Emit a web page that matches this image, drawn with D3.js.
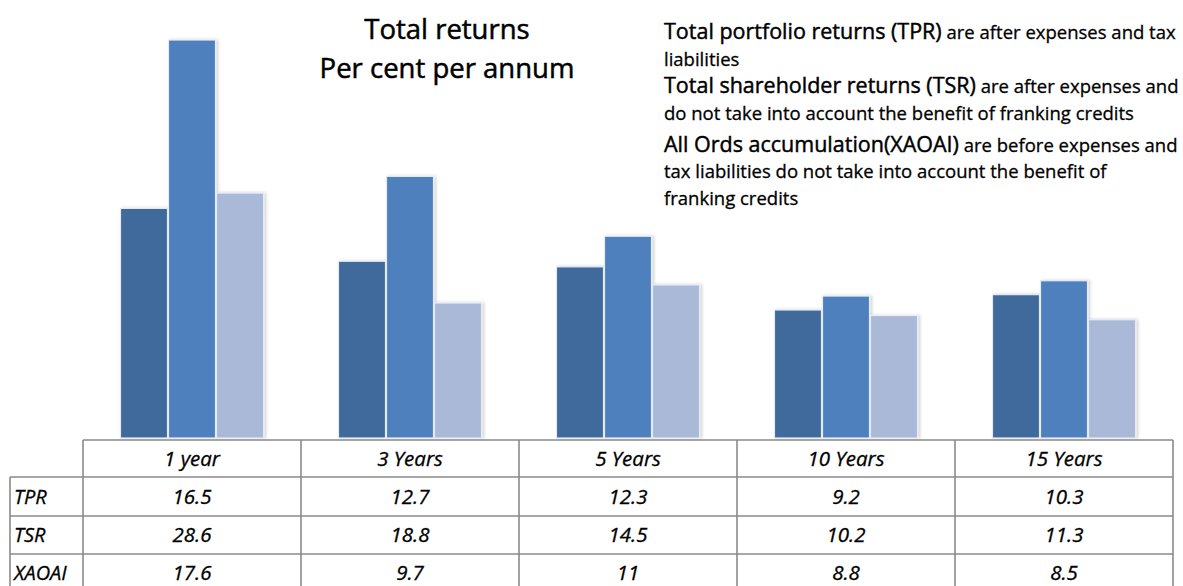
<!DOCTYPE html>
<html><head><meta charset="utf-8">
<script src="https://cdn.jsdelivr.net/npm/d3@7"></script>
<style>body{margin:0;background:#fff;} svg{display:block;}</style>
</head><body>
<svg id="chart" width="1183" height="586"></svg>
<script>
const categories = ["1 year", "3 Years", "5 Years", "10 Years", "15 Years"];
const seriesNames = ["TPR", "TSR", "XAOAI"];
const tpr = [16.5, 12.7, 12.3, 9.2, 10.3];
const tsr = [28.6, 18.8, 14.5, 10.2, 11.3];
const xaoai = [17.6, 9.7, 11, 8.8, 8.5];
const seriesValues = [tpr, tsr, xaoai];
const seriesLabels = [
  ["16.5","12.7","12.3","9.2","10.3"],
  ["28.6","18.8","14.5","10.2","11.3"],
  ["17.6","9.7","11","8.8","8.5"]
];
const colors = ["#3f6a9c", "#4e80bd", "#a9b9d7"];
const titleLines = ["Total returns", "Per cent per annum"];
const notes = [
  [["Total portfolio returns (TPR)", true], [" are after expenses and tax", false]],
  [["liabilities", false]],
  [["Total shareholder returns (TSR)", true], [" are after expenses and", false]],
  [["do not take into account the benefit of franking credits", false]],
  [["All Ords accumulation(XAOAI)", true], [" are before expenses and", false]],
  [["tax liabilities do not take into account the benefit of", false]],
  [["franking credits", false]]
];

const svg = d3.select("#chart");
const font = "'Open Sans', 'Noto Sans', sans-serif";

const defs = svg.append("defs");
const f = defs.append("filter").attr("id","sh").attr("x","-10%").attr("y","-10%").attr("width","130%").attr("height","130%");
f.append("feDropShadow").attr("dx",2).attr("dy",0).attr("stdDeviation",1.5).attr("flood-color","#000").attr("flood-opacity",0.18);

const tableLeft = 83, tableRight = 1173, baseY = 438;
const x = d3.scaleBand().domain(categories).range([tableLeft, tableRight]).padding(0);
const xi = d3.scaleBand().domain(seriesNames).range([0, x.bandwidth()]).paddingInner(0).paddingOuter(0.77);
const y = d3.scaleLinear().domain([0, 28.6]).range([baseY, 40]);

const groups = svg.append("g").selectAll("g").data(categories).join("g")
  .attr("transform", d => `translate(${x(d)},0)`);
groups.selectAll("rect").data((c, ci) => seriesNames.map((s, si) => ({s, v: seriesValues[si][ci], si})))
  .join("rect")
  .attr("x", d => xi(d.s) + 0.5)
  .attr("width", xi.bandwidth() - 1)
  .attr("y", d => y(d.v))
  .attr("height", d => baseY - y(d.v))
  .attr("fill", d => colors[d.si])
  .attr("stroke", "#e4ebf4")
  .attr("stroke-width", 1.2)
  .attr("filter", "url(#sh)");

// Title
svg.append("g").selectAll("text").data(titleLines).join("text")
  .attr("x", 447).attr("y", (d,i) => 39 + i*39)
  .attr("text-anchor","middle")
  .attr("font-family", font).attr("font-size", 27.5).attr("fill","#000")
  .attr("stroke","#000").attr("stroke-width",0.5)
  .text(d => d);

// Notes
const nt = svg.append("g").selectAll("text").data(notes).join("text")
  .attr("x", 664).attr("y", (d,i) => [39,66,93,120,152,178,205][i])
  .attr("font-family", font).attr("fill","#000");
nt.selectAll("tspan").data(d => d).join("tspan")
  .attr("font-size", d => d[1] ? 21.5 : 18.5)
  .attr("stroke", "#000")
  .attr("stroke-width", d => d[1] ? 0.45 : 0.3)
  .text(d => d[0]);

// Table
const rowY = [440, 477, 516, 554, 592];
const lineColor = "#8a8a8a";
const tg = svg.append("g");
tg.append("line").attr("x1", tableLeft).attr("x2", tableRight).attr("y1", rowY[0]).attr("y2", rowY[0])
  .attr("stroke", lineColor).attr("stroke-width", 1.6);
for (let r = 1; r < rowY.length; r++) {
  tg.append("line").attr("x1", 10).attr("x2", tableRight).attr("y1", rowY[r]).attr("y2", rowY[r])
    .attr("stroke", lineColor).attr("stroke-width", 1.6);
}
tg.append("line").attr("x1", 10).attr("x2", 10).attr("y1", rowY[1]).attr("y2", 592).attr("stroke", lineColor).attr("stroke-width", 1.6);
const vx = categories.map(c => x(c)).concat([tableRight]);
tg.selectAll("line.v").data(vx).join("line").attr("class","v")
  .attr("x1", d => d).attr("x2", d => d).attr("y1", rowY[0]).attr("y2", 592)
  .attr("stroke", lineColor).attr("stroke-width", 1.6);

tg.selectAll("text.h").data(categories).join("text").attr("class","h")
  .attr("x", d => x(d) + x.bandwidth()/2).attr("y", 466)
  .attr("text-anchor","middle").attr("font-family", font).attr("font-style","italic")
  .attr("font-size", 20.5).attr("fill","#000").attr("stroke","#000").attr("stroke-width",0.3).text(d => d);

seriesNames.forEach((s, si) => {
  const cy = (rowY[si+1] + rowY[si+2]) / 2 + 7;
  tg.append("text").attr("x", 14).attr("y", cy)
    .attr("font-family", font).attr("font-style","italic").attr("font-size", 20)
    .attr("fill","#000").attr("stroke","#000").attr("stroke-width",0.3).text(s);
  tg.selectAll("text.r"+si).data(categories).join("text").attr("class","r"+si)
    .attr("x", d => x(d) + x.bandwidth()/2).attr("y", cy)
    .attr("text-anchor","middle").attr("font-family", font).attr("font-style","italic")
    .attr("font-size", 20.5).attr("fill","#000").attr("stroke","#000").attr("stroke-width",0.3)
    .text((d, ci) => seriesLabels[si][ci]);
});
</script>
</body></html>
